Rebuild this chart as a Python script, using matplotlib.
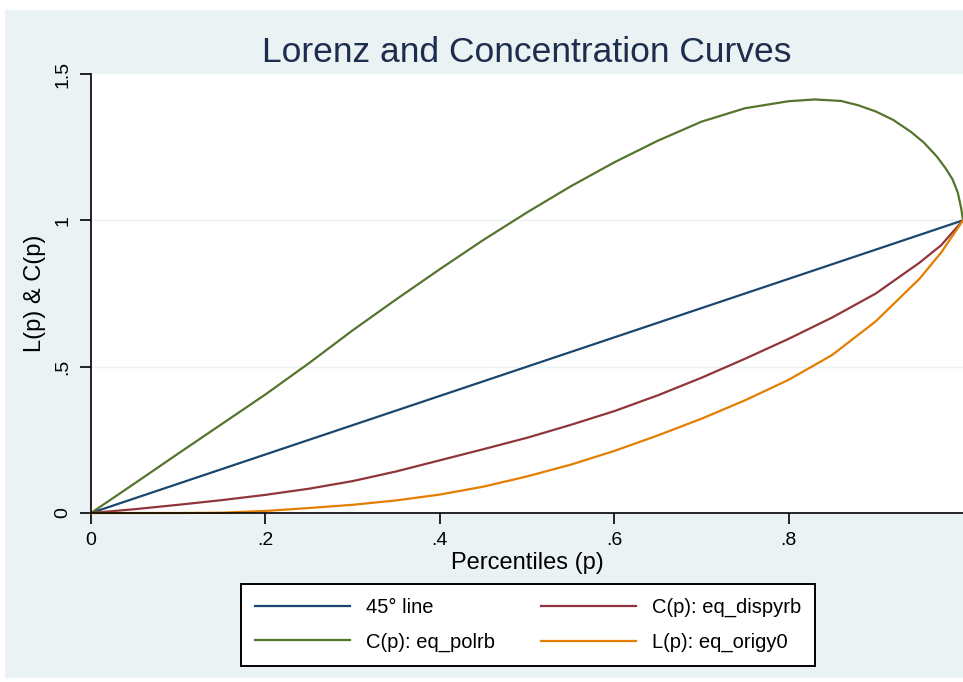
import matplotlib
matplotlib.use("Agg")
import matplotlib.pyplot as plt
from matplotlib.patches import Rectangle

plt.rcParams['font.family'] = ['Liberation Sans', 'DejaVu Sans']

# percentiles and curve ordinates
p_45 = [0.0, 1.0]
v_45 = [0.0, 1.0]

p_polrb = [0.0, 0.05, 0.1, 0.15, 0.2, 0.25, 0.3, 0.35, 0.4, 0.45, 0.5, 0.55, 0.6, 0.65,
           0.7, 0.75, 0.8, 0.83, 0.86, 0.88, 0.9, 0.92, 0.94, 0.955, 0.97, 0.98, 0.988,
           0.994, 0.998, 1.0]
v_polrb = [0.0, 0.101, 0.203, 0.304, 0.405, 0.512, 0.624, 0.73, 0.833, 0.933, 1.027, 1.116,
           1.198, 1.272, 1.337, 1.383, 1.407, 1.413, 1.408, 1.393, 1.372, 1.343, 1.303,
           1.266, 1.218, 1.178, 1.14, 1.095, 1.04, 1.0]

p_dispyrb = [0.0, 0.05, 0.1, 0.15, 0.2, 0.25, 0.3, 0.35, 0.4, 0.45, 0.5, 0.55, 0.6, 0.65,
             0.7, 0.75, 0.8, 0.85, 0.9, 0.95, 0.975, 1.0]
v_dispyrb = [0.0, 0.013, 0.028, 0.044, 0.062, 0.083, 0.109, 0.142, 0.180, 0.218, 0.257,
             0.301, 0.348, 0.402, 0.462, 0.527, 0.595, 0.668, 0.75, 0.855, 0.915, 1.0]

p_origy0 = [0.0, 0.05, 0.1, 0.15, 0.2, 0.25, 0.3, 0.35, 0.4, 0.45, 0.5, 0.55, 0.6, 0.65,
            0.7, 0.75, 0.8, 0.85, 0.9, 0.95, 0.975, 1.0]
v_origy0 = [0.0, 0.0, 0.0, 0.001, 0.007, 0.017, 0.028, 0.043, 0.063, 0.09, 0.125, 0.165,
            0.212, 0.265, 0.322, 0.385, 0.455, 0.54, 0.655, 0.8, 0.89, 1.0]

x_ticks = [0, 0.2, 0.4, 0.6, 0.8]
x_labels = ['0', '.2', '.4', '.6', '.8']
y_ticks = [0, 0.5, 1, 1.5]
y_labels = ['0', '.5', '1', '1.5']

navy = '#1a476f'
maroon = '#90353b'
green = '#55752f'
orange = '#e37e00'
region = '#eaf2f3'

W, H = 963, 682
fig = plt.figure(figsize=(W / 100, H / 100), dpi=100, facecolor='white')
fig.patches.append(Rectangle((5 / W, 4 / H), 1, 1 - 14 / H, transform=fig.transFigure,
                             facecolor=region, edgecolor='none', zorder=-10))

ax = fig.add_axes([91 / W, 1 - 513 / H, (963 - 91) / W, (513 - 74) / H])
ax.set_facecolor('white')

l1, = ax.plot(p_45, v_45, color=navy, lw=1.6, label='45° line')
l2, = ax.plot(p_polrb, v_polrb, color=green, lw=1.6, label='C(p): eq_polrb')
l3, = ax.plot(p_dispyrb, v_dispyrb, color=maroon, lw=1.6, label='C(p): eq_dispyrb')
l4, = ax.plot(p_origy0, v_origy0, color=orange, lw=1.6, label='L(p): eq_origy0')

ax.set_xlim(0, 1)
ax.set_ylim(0, 1.5)
ax.set_xticks(x_ticks)
ax.set_xticklabels(x_labels)
ax.set_yticks(y_ticks)
ax.set_yticklabels(y_labels, rotation=90, va='center')
for v in [0.5, 1]:
    ax.axhline(v, color=region, lw=1, zorder=0)

for s in ['top', 'right']:
    ax.spines[s].set_visible(False)
for s in ['left', 'bottom']:
    ax.spines[s].set_color('black')
    ax.spines[s].set_linewidth(1.2)
ax.tick_params(direction='out', length=8, width=1.2, labelsize=14, colors='black', pad=6)
for c in (l1, l2, l3, l4):
    c.set_clip_on(False)

ax.set_xlabel('Percentiles (p)', fontsize=17, labelpad=2)
ax.set_ylabel('L(p) & C(p)', fontsize=17, labelpad=6)

fig.text(527 / W, 1 - 62 / H, 'Lorenz and Concentration Curves', ha='center', va='baseline',
         fontsize=25.5, color='#1e2c4e')

leg = fig.legend(handles=[l1, l2, l3, l4], ncol=2, loc='center',
                 bbox_to_anchor=(528 / W, 1 - 625 / H), fontsize=14.5, frameon=True,
                 fancybox=False, edgecolor='black', facecolor='white', framealpha=1,
                 handlelength=4.7, handletextpad=0.8, columnspacing=2.3,
                 labelspacing=0.75, borderpad=0.7)
leg.get_frame().set_linewidth(1.4)

fig.savefig('out.png', dpi=100, facecolor='white')
